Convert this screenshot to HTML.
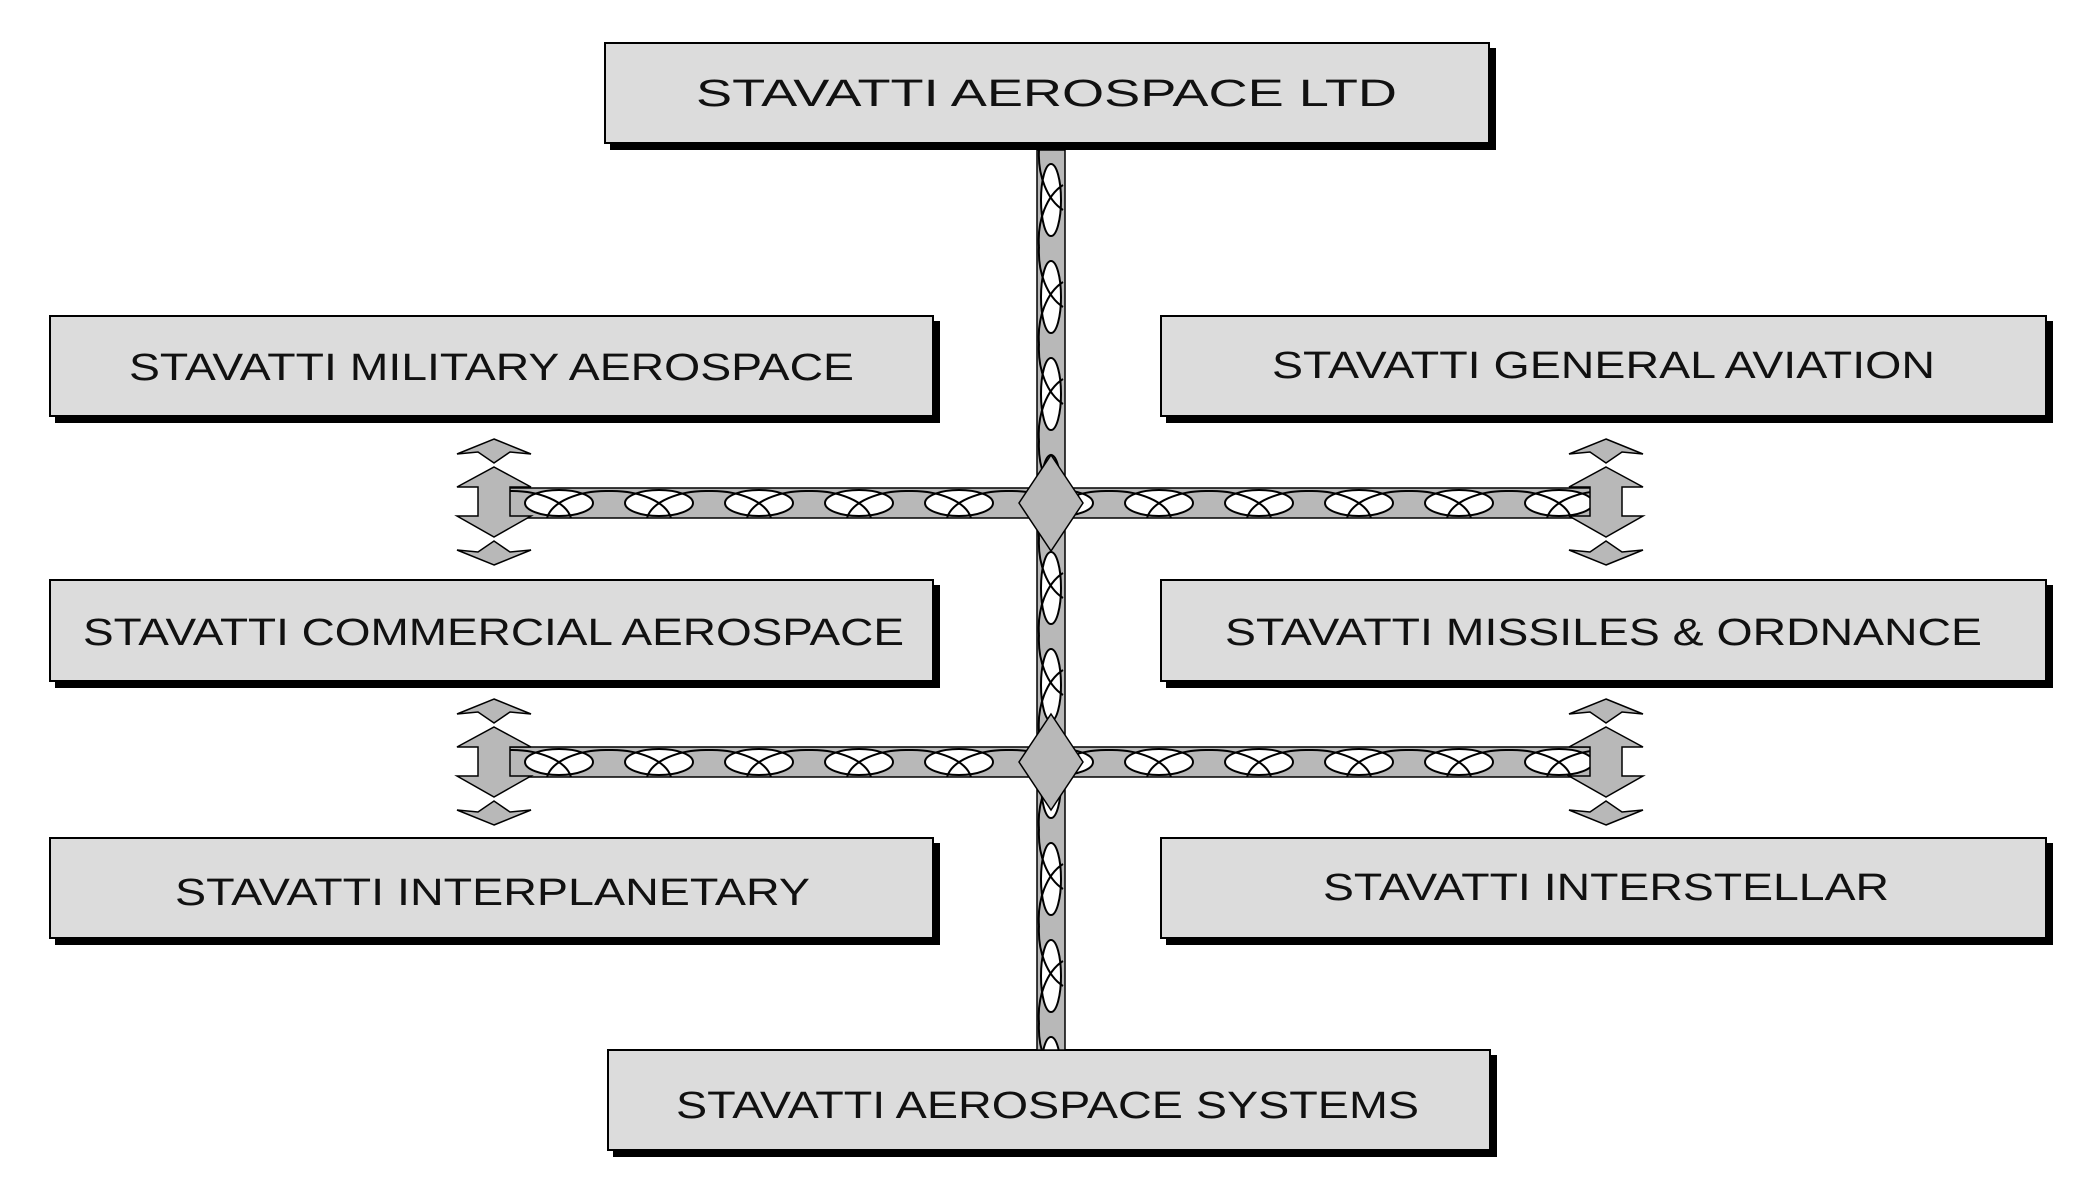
<!DOCTYPE html>
<html><head><meta charset="utf-8"><style>
html,body{margin:0;padding:0;background:#fff;}
svg{display:block;}
text{font-family:"Liberation Sans",sans-serif;font-size:38px;fill:#111;}
</style></head><body>
<svg width="2100" height="1200" viewBox="0 0 2100 1200" xmlns="http://www.w3.org/2000/svg">
<defs>
<pattern id="hp1" x="509" y="488" width="100" height="30" patternUnits="userSpaceOnUse">
  <rect x="0" y="0" width="100" height="30" fill="#b8b8b8"/>
  <ellipse cx="50" cy="15" rx="34" ry="13" fill="#fff" stroke="#000" stroke-width="2"/>
  <path d="M0 3 A60 32 0 0 1 62 30" fill="none" stroke="#000" stroke-width="2"/>
  <path d="M38 30 A60 32 0 0 1 100 3" fill="none" stroke="#000" stroke-width="2"/>
</pattern>
<pattern id="hp2" x="509" y="747" width="100" height="30" patternUnits="userSpaceOnUse">
  <rect x="0" y="0" width="100" height="30" fill="#b8b8b8"/>
  <ellipse cx="50" cy="15" rx="34" ry="13" fill="#fff" stroke="#000" stroke-width="2"/>
  <path d="M0 3 A60 32 0 0 1 62 30" fill="none" stroke="#000" stroke-width="2"/>
  <path d="M38 30 A60 32 0 0 1 100 3" fill="none" stroke="#000" stroke-width="2"/>
</pattern>
<pattern id="vp" x="1037" y="150" width="28" height="97" patternUnits="userSpaceOnUse">
  <rect x="0" y="0" width="28" height="97" fill="#b8b8b8"/>
  <ellipse cx="14" cy="50" rx="10" ry="36" fill="#fff" stroke="#000" stroke-width="2"/>
  <path d="M2 0 A40 60 0 0 0 26 60" fill="none" stroke="#000" stroke-width="2"/>
  <path d="M26 35 A40 60 0 0 0 2 97" fill="none" stroke="#000" stroke-width="2"/>
</pattern>
<g id="arr">
  <path d="M0 -63 L37 -48 L16 -50 L0 -39 L-16 -50 L-37 -48 Z" fill="#b8b8b8" stroke="#000" stroke-width="1.5"/>
  <path d="M0 -35 L37 -15 L16 -15 L16 14 L37 14 L0 35 L-37 14 L-16 14 L-16 -15 L-37 -15 Z" fill="#b8b8b8" stroke="#000" stroke-width="1.5"/>
  <path d="M0 63 L37 48 L16 50 L0 39 L-16 50 L-37 48 Z" fill="#b8b8b8" stroke="#000" stroke-width="1.5"/>
</g>
</defs>

<g stroke="#000" stroke-width="2">
  <rect x="611" y="49" width="884" height="100" fill="#000"/>
  <rect x="605" y="43" width="884" height="100" fill="#dcdcdc"/>
  <rect x="56" y="322" width="883" height="100" fill="#000"/>
  <rect x="50" y="316" width="883" height="100" fill="#dcdcdc"/>
  <rect x="1167" y="322" width="885" height="100" fill="#000"/>
  <rect x="1161" y="316" width="885" height="100" fill="#dcdcdc"/>
  <rect x="56" y="586" width="883" height="101" fill="#000"/>
  <rect x="50" y="580" width="883" height="101" fill="#dcdcdc"/>
  <rect x="1167" y="586" width="885" height="101" fill="#000"/>
  <rect x="1161" y="580" width="885" height="101" fill="#dcdcdc"/>
  <rect x="56" y="844" width="883" height="100" fill="#000"/>
  <rect x="50" y="838" width="883" height="100" fill="#dcdcdc"/>
  <rect x="1167" y="844" width="885" height="100" fill="#000"/>
  <rect x="1161" y="838" width="885" height="100" fill="#dcdcdc"/>
  <rect x="614" y="1056" width="882" height="100" fill="#000"/>
  <rect x="608" y="1050" width="882" height="100" fill="#dcdcdc"/>
</g>

<rect x="1037" y="150" width="28" height="900" fill="url(#vp)" stroke="#000" stroke-width="1.5"/>
<rect x="509" y="488" width="1090" height="30" fill="url(#hp1)" stroke="#000" stroke-width="1.5"/>
<rect x="509" y="747" width="1090" height="30" fill="url(#hp2)" stroke="#000" stroke-width="1.5"/>
<path d="M1051 455 L1083 503 L1051 551 L1019 503 Z" fill="#b8b8b8" stroke="#000" stroke-width="1.5"/>
<path d="M1051 714 L1083 762 L1051 810 L1019 762 Z" fill="#b8b8b8" stroke="#000" stroke-width="1.5"/>
<use href="#arr" x="494" y="502"/>
<use href="#arr" x="1606" y="502"/>
<use href="#arr" x="494" y="762"/>
<use href="#arr" x="1606" y="762"/>

<text x="696" y="106" textLength="701" lengthAdjust="spacingAndGlyphs">STAVATTI AEROSPACE LTD</text>
<text x="129" y="380" textLength="725" lengthAdjust="spacingAndGlyphs">STAVATTI MILITARY AEROSPACE</text>
<text x="1272" y="378" textLength="663" lengthAdjust="spacingAndGlyphs">STAVATTI GENERAL AVIATION</text>
<text x="83" y="645" textLength="821" lengthAdjust="spacingAndGlyphs">STAVATTI COMMERCIAL AEROSPACE</text>
<text x="1225" y="645" textLength="757" lengthAdjust="spacingAndGlyphs">STAVATTI MISSILES &amp; ORDNANCE</text>
<text x="175" y="905" textLength="635" lengthAdjust="spacingAndGlyphs">STAVATTI INTERPLANETARY</text>
<text x="1323" y="900" textLength="566" lengthAdjust="spacingAndGlyphs">STAVATTI INTERSTELLAR</text>
<text x="676" y="1118" textLength="743" lengthAdjust="spacingAndGlyphs">STAVATTI AEROSPACE SYSTEMS</text>
</svg>
</body></html>
